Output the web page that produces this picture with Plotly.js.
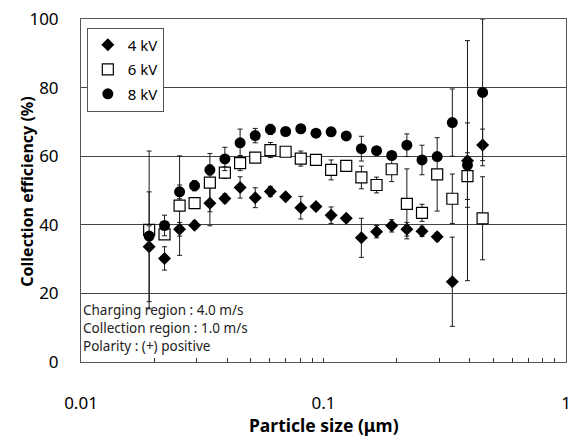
<!DOCTYPE html>
<html>
<head>
<meta charset="utf-8">
<script src="https://cdn.plot.ly/plotly-3.0.1.min.js"></script>
<style>html,body{margin:0;padding:0;background:#fff;}#chart{width:575px;height:436px;}</style>
</head>
<body>
<div id="chart"></div>
<script>
// Particle size (um), SMPS channel midpoints
const sizes = [0.0191, 0.0221, 0.0255, 0.0294, 0.0340, 0.0392, 0.0453, 0.0523, 0.0604, 0.0698, 0.0806, 0.0931,
               0.1075, 0.1241, 0.1433, 0.1655, 0.1911, 0.2207, 0.2548, 0.2943, 0.3398, 0.3924, 0.4530];

const eff4kV = [33.6, 30.2, 38.7, 39.9, 46.3, 47.7, 50.9, 47.9, 49.7, 48.2, 45.0, 45.3,
                42.8, 41.9, 36.2, 38.0, 39.7, 38.7, 38.1, 36.5, 23.4, 58.7, 63.3];
const err4kV = [16.0, 3.4, 2.0, 1.2, 6.6, 1.3, 3.1, 2.9, 1.5, 1.0, 3.3, 1.0,
                2.4, 1.0, 5.7, 1.8, 1.8, 2.0, 1.5, 1.2, 13.0, 35.0, 4.6];

const eff6kV = [38.5, 37.2, 45.6, 46.3, 52.3, 55.2, 58.0, 59.6, 61.8, 61.3, 59.3, 58.9,
                56.0, 57.2, 53.8, 51.6, 56.2, 46.1, 43.5, 54.7, 47.6, 54.2, 41.9];
const err6kV = [23.0, 1.0, 14.5, 1.0, 8.5, 1.7, 2.2, 1.0, 2.2, 1.0, 2.2, 1.0,
                2.9, 1.0, 3.3, 2.3, 3.6, 10.2, 2.5, 10.7, 7.2, 6.8, 12.1];

const eff8kV = [36.7, 39.8, 49.6, 51.4, 56.0, 59.2, 63.9, 66.0, 67.8, 67.2, 68.0, 66.7,
                67.1, 65.9, 62.2, 61.6, 60.2, 63.2, 58.9, 59.9, 69.8, 57.4, 78.6];
const err8kV = [3.0, 3.0, 2.0, 1.5, 1.5, 3.4, 4.0, 2.1, 1.5, 1.0, 1.0, 1.0,
                1.0, 1.0, 3.6, 1.0, 1.0, 3.3, 4.3, 1.0, 9.8, 12.3, 21.4];

const seriesNames = ['4 kV', '6 kV', '8 kV'];
const xTickText = ['0.01', '0.1', '1'];
const yTickVals = [0, 20, 40, 60, 80, 100];
const xTitle = 'Particle size (μm)';
const yTitle = 'Collection efficiency (%)';
const notes = ['Charging region : 4.0 m/s', 'Collection region : 1.0 m/s', 'Polarity : (+) positive'];

const FONT = 'Noto Sans, Open Sans, sans-serif';
function errObj(arr){ return {type:'data', array:arr, visible:true, color:'#1a1a1a', thickness:1, width:2.5}; }

const traces = [
  {x:sizes, y:eff4kV, name:seriesNames[0], legendgroup:'a', type:'scatter', mode:'markers', error_y:errObj(err4kV),
   marker:{symbol:'diamond', size:10, color:'#000'}},
  {x:sizes, y:eff6kV, name:seriesNames[1], legendgroup:'b', type:'scatter', mode:'markers', error_y:errObj(err6kV),
   marker:{symbol:'square', size:11, color:'#fff', line:{width:1.2, color:'#000'}}},
  {x:sizes, y:eff8kV, name:seriesNames[2], legendgroup:'c', type:'scatter', mode:'markers', error_y:errObj(err8kV),
   marker:{symbol:'circle', size:11, color:'#000'}}
];

const layout = {
  width:575, height:436,
  margin:{l:81, r:9, t:19, b:74},
  paper_bgcolor:'#fff', plot_bgcolor:'#fff',
  font:{family:FONT, size:16, color:'#000'},
  showlegend:true,
  legend:{x:0.012, y:0.975, xanchor:'left', yanchor:'top', bgcolor:'#fff', bordercolor:'#555', borderwidth:1,
          font:{family:FONT, size:15}, tracegroupgap:2, itemwidth:30, traceorder:'grouped'},
  xaxis:{type:'log', range:[-2, 0], tickmode:'linear', tick0:0, dtick:1, ticks:'inside', ticklen:4, tickcolor:'#333',
         showgrid:false, showline:true, linecolor:'#555', linewidth:1, mirror:true, zeroline:false,
         minor:{dtick:'D1', ticks:'inside', ticklen:4, tickcolor:'#333', tickwidth:1, showgrid:false},
         ticklabelstandoff:26, tickfont:{family:FONT, size:17}},
  yaxis:{range:[0, 100], tickvals:yTickVals, ticks:'', showgrid:true, gridcolor:'#444', gridwidth:1,
         showline:true, linecolor:'#555', linewidth:1, mirror:true, zeroline:false,
         ticklabelstandoff:18, tickfont:{family:FONT, size:17}},
  annotations: notes.map((t, k) => ({text:t, xref:'paper', yref:'paper', x:0.0, y:0.152 - k*0.0525,
     xanchor:'left', yanchor:'middle', showarrow:false, font:{family:FONT, size:13.5, color:'#222'}}))
    .concat([
      {text:'<b>' + xTitle + '</b>', xref:'paper', yref:'paper', x:0.502, y:-0.183, xanchor:'center', yanchor:'middle',
       showarrow:false, font:{family:FONT, size:17.5, color:'#000'}},
      {text:'<b>' + yTitle + '</b>', xref:'paper', yref:'paper', x:-0.113, y:0.497, xanchor:'center', yanchor:'middle',
       textangle:-90, showarrow:false, font:{family:FONT, size:16, color:'#000'}}
    ])
};

Plotly.newPlot('chart', traces, layout, {displayModeBar:false, staticPlot:true});
</script>
</body>
</html>
